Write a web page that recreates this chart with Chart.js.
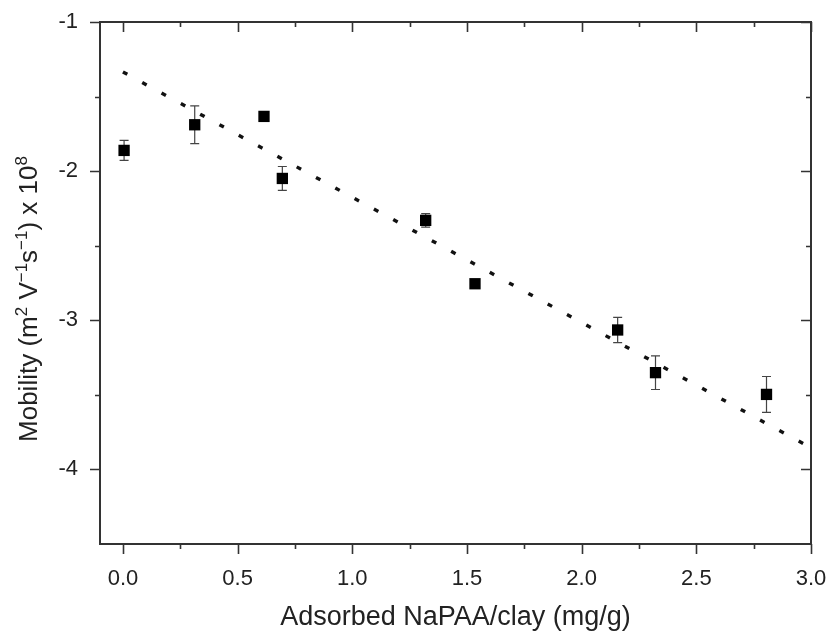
<!DOCTYPE html>
<html>
<head>
<meta charset="utf-8">
<script src="https://cdn.jsdelivr.net/npm/chart.js@4/dist/chart.umd.min.js"></script>
<style>
  html, body { margin: 0; padding: 0; background: #ffffff; }
  #wrap { width: 830px; height: 635px; }
</style>
</head>
<body>
<div id="wrap"><canvas id="c" width="830" height="635"></canvas></div>
<script>
// ---- data ----
const adsorbed = [0.005, 0.313, 0.615, 0.695, 1.320, 1.535, 2.157, 2.322, 2.806];
const mobility = [-1.861, -1.689, -1.633, -2.049, -2.330, -2.755, -3.065, -3.351, -3.497];
const mobilityErr = [0.067, 0.127, 0.012, 0.080, 0.045, 0.020, 0.085, 0.113, 0.120];
const fitX = [0.0, 3.0];
const fitY = [-1.335, -3.855];
const xTitle = 'Adsorbed NaPAA/clay (mg/g)';
const yTitleParts = [['Mobility (m', false], ['2', true], [' V', false], ['\u22121', true], ['s', false], ['\u22121', true], [') x 10', false], ['8', true]];

const FONT = '"Liberation Sans", Arial, Helvetica, sans-serif';
const INK = '#222222';
const AXIS = '#333333';

function noPad(s) {
  s.paddingTop = 0; s.paddingBottom = 0; s.paddingLeft = 0; s.paddingRight = 0;
}

const framePlugin = {
  id: 'frame',
  beforeDatasetsDraw(chart) {
    const ctx = chart.ctx, xs = chart.scales.x, ys = chart.scales.y;
    ctx.save();
    ctx.strokeStyle = '#444';
    ctx.lineWidth = 1.2;
    for (let i = 0; i < adsorbed.length; i++) {
      const e = mobilityErr[i];
      if (!e) continue;
      const px = xs.getPixelForValue(adsorbed[i]);
      const pTop = ys.getPixelForValue(mobility[i] + e);
      const pBot = ys.getPixelForValue(mobility[i] - e);
      ctx.beginPath();
      ctx.moveTo(px, pTop); ctx.lineTo(px, pBot);
      ctx.moveTo(px - 4.5, pTop); ctx.lineTo(px + 4.5, pTop);
      ctx.moveTo(px - 4.5, pBot); ctx.lineTo(px + 4.5, pBot);
      ctx.stroke();
    }
    ctx.restore();
  },
  afterDraw(chart) {
    const ctx = chart.ctx, a = chart.chartArea, xs = chart.scales.x, ys = chart.scales.y;
    ctx.save();
    ctx.strokeStyle = AXIS;
    ctx.lineWidth = 2;
    ctx.strokeRect(a.left, a.top, a.right - a.left, a.bottom - a.top);
    ctx.lineWidth = 1.6;
    const MAJ = 10, MIN = 5;
    const xt = xs.ticks.map(t => t.value);
    const xMarks = [];
    xt.forEach((v, i) => {
      xMarks.push([v, MAJ]);
      if (i < xt.length - 1) xMarks.push([(v + xt[i + 1]) / 2, MIN]);
    });
    xMarks.forEach(([v, L]) => {
      const px = Math.round(xs.getPixelForValue(v)) + 0.5;
      ctx.beginPath();
      ctx.moveTo(px, a.bottom); ctx.lineTo(px, a.bottom + L);
      ctx.moveTo(px, a.top); ctx.lineTo(px, a.top + L);
      ctx.stroke();
    });
    const yt = ys.ticks.map(t => t.value);
    const yMarks = [];
    yt.forEach((v, i) => {
      yMarks.push([v, MAJ]);
      if (i < yt.length - 1) yMarks.push([(v + yt[i + 1]) / 2, MIN]);
    });
    yMarks.forEach(([v, L]) => {
      const py = Math.round(ys.getPixelForValue(v)) + 0.5;
      ctx.beginPath();
      ctx.moveTo(a.left, py); ctx.lineTo(a.left - L, py);
      ctx.moveTo(a.right, py); ctx.lineTo(a.right - L, py);
      ctx.stroke();
    });
    // y title with superscripts
    const big = 26, small = 17;
    ctx.fillStyle = INK;
    ctx.textBaseline = 'alphabetic';
    ctx.textAlign = 'left';
    let total = 0;
    yTitleParts.forEach(([t, sup]) => {
      ctx.font = (sup ? small : big) + 'px ' + FONT;
      total += ctx.measureText(t).width;
    });
    const cx = 37, cy = 299;
    ctx.translate(cx, cy);
    ctx.rotate(-Math.PI / 2);
    let x = -total / 2;
    yTitleParts.forEach(([t, sup]) => {
      ctx.font = (sup ? small : big) + 'px ' + FONT;
      ctx.fillText(t, x, sup ? -10 : 0);
      x += ctx.measureText(t).width;
    });
    ctx.restore();
  }
};

const points = adsorbed.map((x, i) => ({ x: x, y: mobility[i] }));
const fitLine = fitX.map((x, i) => ({ x: x, y: fitY[i] }));

new Chart(document.getElementById('c'), {
  type: 'scatter',
  data: {
    datasets: [
      {
        type: 'line',
        data: fitLine,
        borderColor: '#111',
        borderWidth: 3.4,
        borderDash: [5, 17],
        pointRadius: 0,
        fill: false,
        order: 2
      },
      {
        data: points,
        pointStyle: 'rect',
        pointRadius: 8,
        backgroundColor: '#000',
        borderColor: '#000',
        borderWidth: 0,
        order: 1
      }
    ]
  },
  options: {
    responsive: false,
    animation: false,
    layout: { padding: { top: 22, right: 19, left: 0, bottom: 0 } },
    plugins: { legend: { display: false }, tooltip: { enabled: false } },
    scales: {
      x: {
        type: 'linear',
        position: 'bottom',
        min: -0.1,
        max: 3.0,
        grid: { display: false, drawTicks: false },
        border: { display: false },
        ticks: {
          stepSize: 0.5,
          includeBounds: false,
          padding: 22,
          color: INK,
          font: { family: FONT, size: 22 },
          maxRotation: 0,
          callback: v => Number(v).toFixed(1)
        },
        title: {
          display: true,
          text: xTitle,
          color: INK,
          font: { family: FONT, size: 27 },
          padding: { top: 0, bottom: 1 }
        },
        afterFit: s => { s.height = 91; noPad(s); }
      },
      y: {
        type: 'linear',
        position: 'left',
        min: -4.5,
        max: -1,
        grid: { display: false, drawTicks: false },
        border: { display: false },
        ticks: {
          stepSize: 1,
          includeBounds: false,
          padding: 22,
          color: INK,
          font: { family: FONT, size: 22 },
          callback: v => String(Math.round(v))
        },
        afterFit: s => { s.width = 100; noPad(s); }
      }
    }
  },
  plugins: [framePlugin]
});
</script>
</body>
</html>
